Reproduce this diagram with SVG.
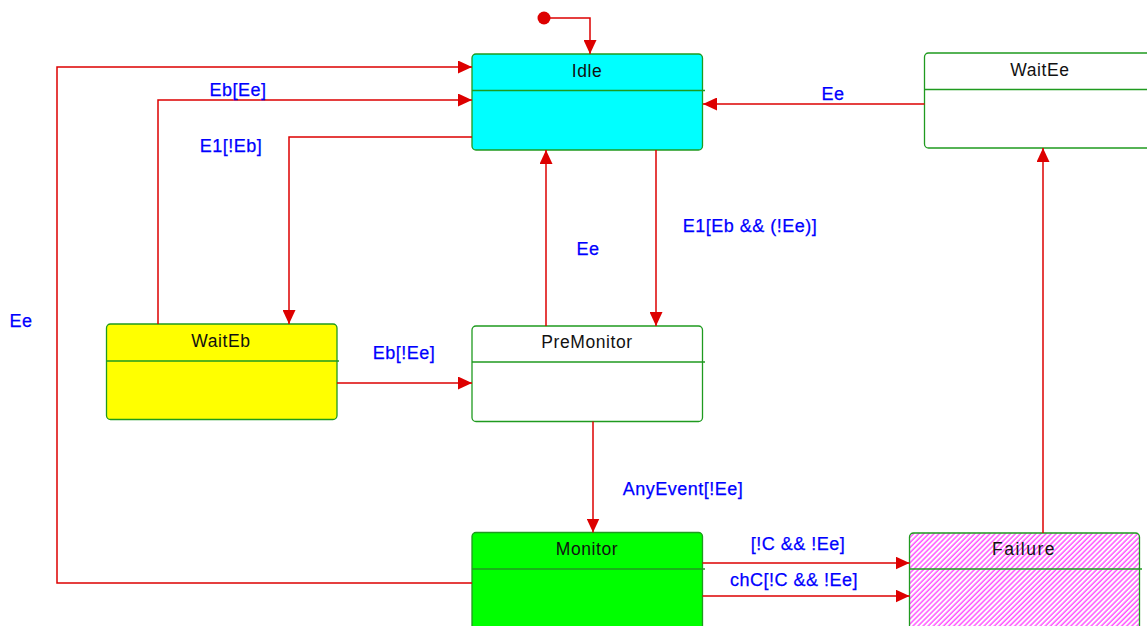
<svg xmlns="http://www.w3.org/2000/svg" width="1147" height="626" viewBox="0 0 1147 626">
<style>
.st{stroke:#1f9a1f;stroke-width:1.3}
.nm{font-family:"Liberation Sans",Arial,sans-serif;font-size:17.5px;fill:#111;text-anchor:middle;letter-spacing:0.6px}
.lb{font-family:"Liberation Sans",Arial,sans-serif;font-size:18px;fill:#0000ff;stroke:#0000ff;stroke-width:0.25;text-anchor:middle;letter-spacing:0.5px}
.cn{fill:none;stroke:#dd0000;stroke-width:1.5}
</style>
<defs>
<marker id="ah" viewBox="0 0 14 13" refX="14" refY="6.5" markerWidth="14" markerHeight="13" markerUnits="userSpaceOnUse" orient="auto">
<path d="M0,0 L14,6.5 L0,13 Z" fill="#dd0000"/>
</marker>
<pattern id="hatch" patternUnits="userSpaceOnUse" width="8" height="3.6" patternTransform="rotate(-45)">
<rect width="8" height="3.6" style="fill:#ffffff"/>
<line x1="0" y1="1" x2="8" y2="1" style="stroke:#ff00ff;stroke-width:1"/>
</pattern>
</defs>
<rect width="1147" height="626" fill="#fff"/>
<g id="init"><circle cx="544" cy="18" r="6.5" fill="#dd0000"/></g>
<g id="Idle">
<rect x="472" y="54" width="230.5" height="96" rx="4" fill="#00ffff" class="st"/>
<line x1="472" y1="90.5" x2="705" y2="90.5" class="st"/>
<text x="587" y="77" class="nm">Idle</text>
</g>
<g id="WaitEe">
<rect x="924.5" y="53" width="240" height="95" rx="4" fill="#fff" class="st"/>
<line x1="924.5" y1="89.5" x2="1147" y2="89.5" class="st"/>
<text x="1040" y="76" class="nm">WaitEe</text>
</g>
<g id="WaitEb">
<rect x="106.5" y="324" width="230.5" height="95.5" rx="4" fill="#ffff00" class="st"/>
<line x1="106.5" y1="361" x2="339" y2="361" class="st"/>
<text x="221" y="347" class="nm">WaitEb</text>
</g>
<g id="PreMonitor">
<rect x="472" y="326" width="230.5" height="95.5" rx="4" fill="#fff" class="st"/>
<line x1="472" y1="362" x2="705" y2="362" class="st"/>
<text x="587" y="348" class="nm">PreMonitor</text>
</g>
<g id="Monitor">
<rect x="472" y="532.5" width="230.5" height="110" rx="4" fill="#00ff00" class="st"/>
<line x1="472" y1="569" x2="705" y2="569" class="st"/>
<text x="587" y="555" class="nm">Monitor</text>
</g>
<g id="Failure">
<rect x="909.5" y="533" width="230" height="110" rx="4" fill="url(#hatch)" class="st"/>
<line x1="909.5" y1="569" x2="1142" y2="569" class="st"/>
<text x="1024" y="555" class="nm" style="letter-spacing:1.5px">Failure</text>
</g>
<g id="connectors">
<path class="cn" d="M544,18 H590 V54" marker-end="url(#ah)"/>
<path class="cn" d="M924.5,104 H703" marker-end="url(#ah)"/>
<path class="cn" d="M472,583 H57 V67 H472" marker-end="url(#ah)"/>
<path class="cn" d="M158,324 V100 H472" marker-end="url(#ah)"/>
<path class="cn" d="M472,137 H289 V324" marker-end="url(#ah)"/>
<path class="cn" d="M546,326 V150" marker-end="url(#ah)"/>
<path class="cn" d="M656,150 V326" marker-end="url(#ah)"/>
<path class="cn" d="M337,383 H472" marker-end="url(#ah)"/>
<path class="cn" d="M593,421.5 V532.5" marker-end="url(#ah)"/>
<path class="cn" d="M702.5,563 H909.5" marker-end="url(#ah)"/>
<path class="cn" d="M702.5,596 H909.5" marker-end="url(#ah)"/>
<path class="cn" d="M1043,533 V148" marker-end="url(#ah)"/>
<text x="833" y="100" class="lb">Ee</text>
<text x="238" y="96" class="lb">Eb[Ee]</text>
<text x="231" y="152" class="lb">E1[!Eb]</text>
<text x="21" y="327" class="lb">Ee</text>
<text x="588" y="255" class="lb">Ee</text>
<text x="750" y="232" class="lb">E1[Eb &amp;&amp; (!Ee)]</text>
<text x="404" y="359" class="lb">Eb[!Ee]</text>
<text x="683" y="495" class="lb">AnyEvent[!Ee]</text>
<text x="798" y="550" class="lb">[!C &amp;&amp; !Ee]</text>
<text x="794" y="586" class="lb">chC[!C &amp;&amp; !Ee]</text>
</g>
</svg>
